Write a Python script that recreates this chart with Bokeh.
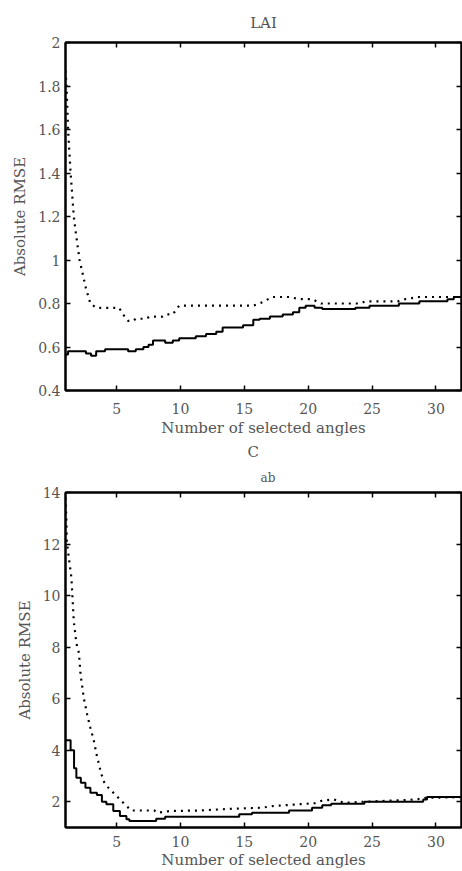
from bokeh.plotting import figure
from bokeh.layouts import column
from bokeh.models import (Range1d, FixedTicker, LinearAxis, CustomJSTickFormatter, Title)
from bokeh.embed import file_html
from bokeh.resources import INLINE

# ---- data ----
lai_solid_x = [1.0, 1.2, 2.6, 3.0, 3.4, 4.1, 5.9, 6.5, 7.1, 7.5, 7.85, 8.8, 9.4, 9.9, 11.2, 12.0, 12.8, 13.3,
               14.9, 15.7, 16.2, 17.0, 18.0, 18.8, 19.3, 19.8, 20.5, 21.1, 23.7, 24.8, 27.1, 28.7, 30.9, 31.4, 32.0]
lai_solid_y = [0.565, 0.58, 0.57, 0.56, 0.58, 0.59, 0.58, 0.59, 0.60, 0.61, 0.63, 0.62, 0.63, 0.64, 0.65, 0.66, 0.67, 0.69,
               0.70, 0.725, 0.73, 0.74, 0.75, 0.76, 0.78, 0.79, 0.78, 0.775, 0.78, 0.79, 0.80, 0.81, 0.82, 0.83, 0.83]

lai_dot_x = [1.0, 1.08, 1.2, 1.4, 1.65, 1.75, 2.1, 2.6, 2.95, 3.4, 5.2, 5.5, 5.9, 6.3, 6.5, 7.3, 7.6, 8.6, 8.9, 9.4,
             9.9, 15.7, 16.2, 17.2, 18.5, 19.3, 20.3, 21.0, 24.0, 24.5, 27.0, 27.6, 28.7, 32.0]
lai_dot_y = [1.87, 1.80, 1.60, 1.40, 1.20, 1.15, 1.00, 0.87, 0.80, 0.78, 0.78, 0.75, 0.72, 0.72, 0.73, 0.73, 0.74, 0.74, 0.75, 0.75,
             0.79, 0.79, 0.80, 0.83, 0.83, 0.82, 0.82, 0.80, 0.80, 0.81, 0.81, 0.82, 0.83, 0.83]

cab_solid_x = [1.0, 1.4, 1.67, 1.85, 2.2, 2.56, 2.95, 3.46, 3.85, 4.2, 4.74, 5.26, 5.77, 6.0, 8.1, 8.8, 14.6, 15.6,
               18.5, 20.3, 21.1, 21.8, 24.4, 29.0, 29.3, 32.0]
cab_solid_y = [4.39, 4.0, 3.3, 2.93, 2.74, 2.54, 2.35, 2.26, 2.0, 1.9, 1.64, 1.45, 1.32, 1.25, 1.34, 1.42, 1.51, 1.57,
               1.66, 1.77, 1.86, 1.92, 2.0, 2.09, 2.18, 2.18]

cab_dot_x = [1.0, 1.07, 1.1, 1.46, 1.65, 1.85, 2.05, 2.18, 2.44, 2.7, 2.95, 3.2, 3.46, 3.72, 3.97, 4.36, 5.0, 5.64, 6.15,
             7.95, 8.2, 9.2, 11.5, 14.1, 16.4, 17.2, 19.2, 20.5, 21.0, 22.0, 22.8, 24.4, 26.9, 28.5, 29.2, 32.0]
cab_dot_y = [13.8, 12.9, 12.1, 10.7, 9.0, 8.15, 7.77, 6.93, 6.0, 5.38, 4.86, 4.41, 3.77, 3.25, 2.8, 2.54, 2.22, 1.9, 1.66,
             1.66, 1.57, 1.64, 1.66, 1.73, 1.77, 1.83, 1.9, 1.94, 2.03, 2.09, 1.96, 2.0, 2.05, 2.09, 2.15, 2.18]

x_ticks = [5, 10, 15, 20, 25, 30]
lai_y_ticks = [0.4, 0.6, 0.8, 1.0, 1.2, 1.4, 1.6, 1.8, 2.0]
cab_y_ticks = [2, 4, 6, 8, 10, 12, 14]

x_label = "Number of selected angles"
y_label = "Absolute RMSE"
lai_title = "LAI"
cab_title_main = "C"
cab_title_sub = "ab"

FONT = "DejaVu Serif"
TXT = "#555555"
W = 462

fmt = CustomJSTickFormatter(code="return String(Math.round(tick*10)/10);")
blank = CustomJSTickFormatter(code="return '';")


def style(p, yticks, xstand, xlabstand):
    p.xaxis.ticker = FixedTicker(ticks=x_ticks)
    p.yaxis.ticker = FixedTicker(ticks=yticks)
    p.yaxis.formatter = fmt
    p.xaxis.formatter = fmt
    for ax in p.axis:
        ax.major_tick_in = 5
        ax.major_tick_out = 0
        ax.minor_tick_line_color = None
        ax.major_tick_line_color = "black"
        ax.major_tick_line_width = 1.5
        ax.axis_line_color = "black"
        ax.axis_line_width = 2
        ax.major_label_text_font = FONT
        ax.major_label_text_font_size = "14px"
        ax.major_label_text_color = TXT
        ax.axis_label_text_font = FONT
        ax.axis_label_text_font_size = "15px"
        ax.axis_label_text_font_style = "normal"
        ax.axis_label_text_color = TXT
    p.xaxis.major_label_standoff = xstand
    p.yaxis.major_label_standoff = 5
    p.xaxis.axis_label = x_label
    p.yaxis.axis_label = y_label
    p.xaxis.axis_label_standoff = xlabstand
    p.yaxis.axis_label_standoff = 6
    for loc in ("above", "right"):
        ax = LinearAxis(ticker=FixedTicker(ticks=x_ticks if loc == "above" else yticks),
                        formatter=blank, major_tick_in=5, major_tick_out=0,
                        minor_tick_line_color=None, major_tick_line_color="black",
                        major_tick_line_width=1.5, axis_line_color="black", axis_line_width=2,
                        major_label_standoff=0, major_label_text_font_size="1px")
        p.add_layout(ax, loc)
    p.xgrid.visible = False
    p.ygrid.visible = False
    p.outline_line_color = "black"
    p.outline_line_width = 2
    p.background_fill_color = "white"
    p.border_fill_color = "white"


p1 = figure(width=W, height=440, x_range=Range1d(1, 32), y_range=Range1d(0.4, 2.0),
            output_backend="svg", toolbar_location=None,
            min_border_left=65, min_border_right=1, min_border_top=42, min_border_bottom=50)
p1.title.text = lai_title
p1.title.align = "center"
p1.title.text_font = FONT
p1.title.text_font_size = "15px"
p1.title.text_font_style = "normal"
p1.title.text_color = TXT
p1.title.standoff = 21
style(p1, lai_y_ticks, 12, 2)
p1.step(lai_solid_x, lai_solid_y, mode="after", line_color="black", line_width=2)
p1.line(lai_dot_x, lai_dot_y, line_color="black", line_width=2.2, line_dash="2 5")

p2 = figure(width=W, height=431, x_range=Range1d(1, 32), y_range=Range1d(1, 14),
            output_backend="svg", toolbar_location=None,
            min_border_left=65, min_border_right=1, min_border_top=51, min_border_bottom=43)
style(p2, cab_y_ticks, 8, 1)
p2.title = None
p2.add_layout(Title(text=cab_title_sub, align="left", offset=195, text_font=FONT, text_font_size="12px",
                    text_font_style="normal", text_color=TXT, standoff=16), "above")
p2.add_layout(Title(text=cab_title_main, align="left", offset=182, text_font=FONT, text_font_size="15px",
                    text_font_style="normal", text_color=TXT, standoff=0), "above")
p2.step(cab_solid_x, cab_solid_y, mode="after", line_color="black", line_width=2)
p2.line(cab_dot_x, cab_dot_y, line_color="black", line_width=2.2, line_dash="2 5")

layout = column(p1, p2, spacing=0)
open("out.html", "w").write(file_html(layout, INLINE))
